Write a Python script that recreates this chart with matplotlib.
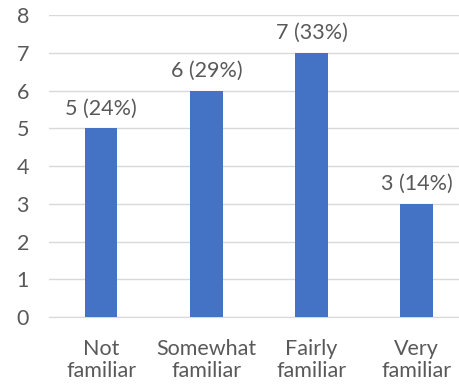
import matplotlib.pyplot as plt

categories = ['Not\nfamiliar', 'Somewhat\nfamiliar', 'Fairly\nfamiliar', 'Very\nfamiliar']
counts = [5, 6, 7, 3]
percents = [24, 29, 33, 14]

plt.rcParams['font.family'] = ['Lato', 'DejaVu Sans']
text_color = '#595959'

fig = plt.figure(figsize=(4.59, 3.89), dpi=100)
ax = fig.add_axes([0.1057, 0.1851, 0.917, 0.7763])

x = range(len(categories))
bars = ax.bar(x, counts, width=0.31, color='#4472C4', zorder=3)

for b, c, p in zip(bars, counts, percents):
    ax.annotate(f'{c} ({p}%)', (b.get_x() + b.get_width() / 2, c),
                xytext=(0, 7), textcoords='offset points',
                ha='center', va='bottom', fontsize=15.5, color=text_color)

ax.set_xlim(-0.5, 3.5)
ax.set_ylim(0, 8)
ax.set_yticks(range(0, 9))
ax.set_xticks(list(x))
ax.set_xticklabels(categories, fontsize=15.5, color=text_color, linespacing=1.1)
ax.tick_params(axis='y', length=0, pad=14, labelsize=15.5, labelcolor=text_color)
ax.tick_params(axis='x', length=0, pad=16)
ax.grid(axis='y', color='#D9D9D9', linewidth=1, zorder=0)
for s in ['top', 'right', 'left']:
    ax.spines[s].set_visible(False)
ax.spines['bottom'].set_color('#D9D9D9')

plt.savefig('out.png', dpi=100)
